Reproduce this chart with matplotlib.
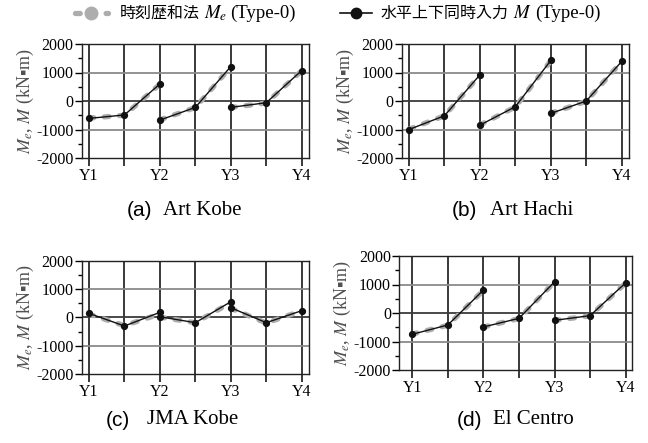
import matplotlib
matplotlib.use('Agg')
import matplotlib.pyplot as plt
from matplotlib.lines import Line2D
from matplotlib.ticker import MultipleLocator, FixedLocator

plt.rcParams['font.family'] = ['Liberation Serif', 'Noto Sans CJK JP']
plt.rcParams['mathtext.fontset'] = 'stix'

# ---- data ----
stations = ['Y1', 'Y2', 'Y3', 'Y4']
span_x = [[0, 0.5, 1], [1, 1.5, 2], [2, 2.5, 3]]

panel_tags = ['(a)', '(b)', '(c)', '(d)']
panel_names = ['Art Kobe', 'Art Hachi', 'JMA Kobe', 'El Centro']

# M: 水平上下同時入力 (Type-0)
M_art_kobe = [[-610, -490, 600], [-670, -224, 1210], [-224, -60, 1070]]
M_art_hachi = [[-1000, -518, 918], [-847, -200, 1424], [-435, 0, 1388]]
M_jma_kobe = [[140, -305, 176], [20, -188, 551], [340, -188, 235]]
M_el_centro = [[-746, -420, 805], [-490, -187, 1096], [-257, -93, 1061]]

# Me: 時刻歴和法 (Type-0)
Me_art_kobe = [[-600, -500, 590], [-660, -230, 1200], [-230, -70, 1060]]
Me_art_hachi = [[-990, -520, 910], [-840, -210, 1410], [-430, -10, 1380]]
Me_jma_kobe = [[110, -290, 120], [10, -190, 520], [320, -200, 230]]
Me_el_centro = [[-740, -430, 800], [-490, -195, 1090], [-260, -100, 1050]]

M_all = [M_art_kobe, M_art_hachi, M_jma_kobe, M_el_centro]
Me_all = [Me_art_kobe, Me_art_hachi, Me_jma_kobe, Me_el_centro]

y_ticks = [-2000, -1000, 0, 1000, 2000]
legend_Me_jp = '時刻歴和法'
legend_Me_sym = '$M_e$'
legend_M_jp = '水平上下同時入力'
legend_M_sym = '$M$'
legend_type = '(Type-0)'
ylabel = '$M_e$, $M$ (kN\u25aam)'

# ---- layout ----
W, H = 648, 443
fig = plt.figure(figsize=(W / 100, H / 100), dpi=100)
renderer = fig.canvas.get_renderer()

def rect(l, r, t, b):
    return [l / W, 1 - b / H, (r - l) / W, (b - t) / H]

axes_rects = [rect(81.7, 309, 44, 158), rect(401.7, 629, 44, 158),
              rect(81.7, 309, 260.7, 374), rect(399.3, 632.3, 256, 370)]
xlims = [(-0.103, 3.103), (-0.103, 3.103), (-0.103, 3.103), (-0.183, 3.093)]

gray = '#adadad'
me_dashes = (0.9, 2.0)
for i, r in enumerate(axes_rects):
    ax = fig.add_axes(r)
    ax.set_xlim(*xlims[i])
    ax.set_ylim(-2000, 2000)
    for xv in [0, 0.5, 1, 1.5, 2, 2.5, 3]:
        ax.axvline(xv, color='#2a2a2a', lw=1.3, zorder=1)
    for yv in [-1000, 1000]:
        ax.axhline(yv, color='#8a8a8a', lw=1.3, zorder=1)
    ax.axhline(0, color='#3a3a3a', lw=1.3, zorder=1)
    for k in range(3):
        ax.plot(span_x[k], Me_all[i][k], color=gray, lw=3.8,
                dashes=me_dashes, dash_capstyle='round', zorder=2)
        ax.plot(span_x[k], M_all[i][k], color='#111111', lw=1.0,
                marker='o', ms=4.2, zorder=3)
    ax.xaxis.set_major_locator(FixedLocator([0, 0.5, 1, 1.5, 2, 2.5, 3]))
    ax.set_xticklabels([stations[0], '', stations[1], '', stations[2], '', stations[3]])
    ax.set_yticks(y_ticks)
    ax.set_yticklabels([str(v) for v in y_ticks])
    ax.yaxis.set_minor_locator(MultipleLocator(500))
    ax.tick_params(axis='x', direction='out', length=6, width=1.3, color='#2a2a2a',
                   labelsize=11.5, pad=1)
    ax.tick_params(axis='y', which='major', direction='out', length=5, width=1.0,
                   labelsize=11.5, pad=1)
    ax.tick_params(axis='y', which='minor', direction='out', length=3, width=1.0)
    for s in ax.spines.values():
        s.set_linewidth(1.0)
        s.set_color('#222222')
    ax.set_ylabel(ylabel, fontsize=13, color='#505050')
    ax.yaxis.set_label_coords(-0.2, 0.5)

# captions
cap_pos = [(152, 163, 210), (477, 490, 210), (130, 147, 420), (482, 493, 420)]
for i, (xr, xl, yc) in enumerate(cap_pos):
    fig.text(xr / W, 1 - yc / H, panel_tags[i], ha='right', va='center',
             fontsize=15, family=['Liberation Sans'])
    fig.text(xl / W, 1 - yc / H, panel_names[i], ha='left', va='center',
             fontsize=15)

# legend (drawn piecewise so CJK and math text can be mixed)
def draw_seq(x_px, base_px, pieces):
    x = x_px
    for s, gap, kw in pieces:
        t = fig.text(x / W, 1 - base_px / H, s, ha='left', va='baseline', **kw)
        x += t.get_window_extent(renderer=renderer).width + gap
    return x

ly = 13
fig.add_artist(Line2D([75 / W, 108 / W], [1 - ly / H] * 2, transform=fig.transFigure,
                      color=gray, lw=3.8, dashes=me_dashes, dash_capstyle='round'))
fig.add_artist(Line2D([91.5 / W], [1 - ly / H], transform=fig.transFigure,
                      color=gray, marker='o', ms=9, lw=0))
fig.add_artist(Line2D([340 / W, 372 / W], [1 - ly / H] * 2, transform=fig.transFigure,
                      color='#111111', lw=1.2))
fig.add_artist(Line2D([356 / W], [1 - ly / H], transform=fig.transFigure,
                      color='#111111', marker='o', ms=7.5, lw=0))

jp = dict(fontsize=11.5, family=['Noto Sans CJK JP'])
sr = dict(fontsize=13.5)
draw_seq(120, 18, [(legend_Me_jp, 4, jp), (legend_Me_sym, 3, sr), (legend_type, 0, sr)])
draw_seq(381, 18, [(legend_M_jp, 4, jp), (legend_M_sym, 3, sr), (legend_type, 0, sr)])

fig.savefig('out.png', dpi=100)
